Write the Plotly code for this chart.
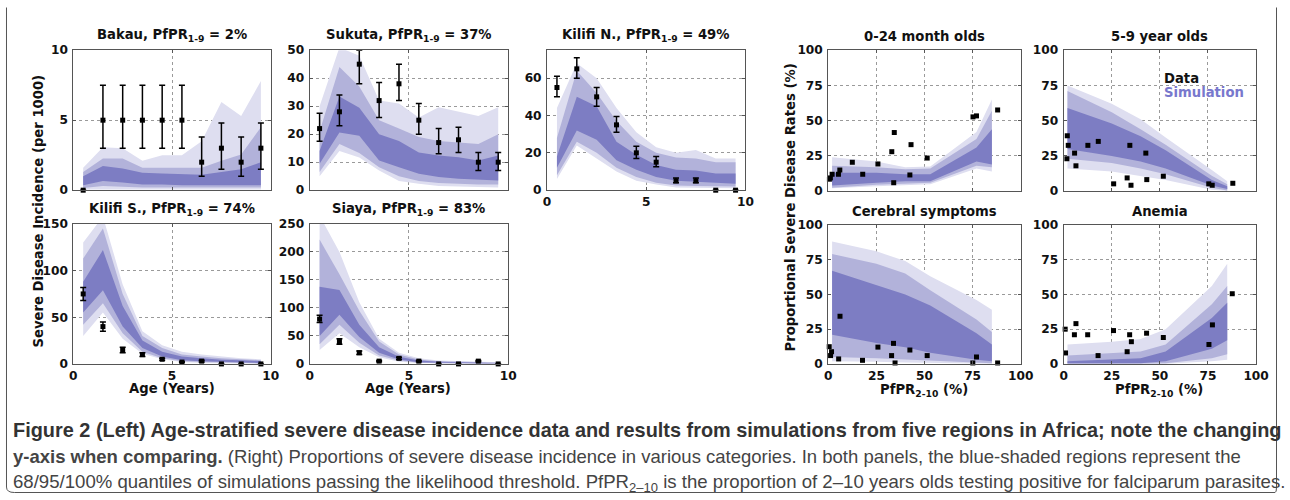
import plotly.graph_objects as go

W, H = 1290, 500

# ---------------- data: left (age-stratified incidence) ----------------
ages = [0.5, 1.5, 2.5, 3.5, 4.5, 5.5, 6.5, 7.5, 8.5, 9.5]

bakau_val = [0, 5, 5, 5, 5, 5, 2, 3, 2, 3]
bakau_lo = [0, 3, 3, 3, 3, 3, 1, 1.5, 1, 1.5]
bakau_hi = [0, 7.5, 7.5, 7.5, 7.5, 7.5, 3.8, 4.8, 3.8, 4.8]
bakau_q100_hi = [1.6, 3.07, 3.0, 2.1, 2.5, 2.5, 3.5, 6.3, 5.3, 7.8]
bakau_q95_hi = [1.3, 2.27, 2.27, 1.6, 1.6, 1.6, 1.6, 2.1, 2.55, 4.5]
bakau_q68_hi = [1.0, 1.73, 1.54, 1.25, 1.2, 1.13, 1.1, 1.3, 1.5, 2.0]
bakau_q68_lo = [0.35, 0.65, 0.55, 0.4, 0.4, 0.35, 0.3, 0.35, 0.35, 0.35]
bakau_q95_lo = [0.15, 0.3, 0.25, 0.2, 0.2, 0.2, 0.15, 0.2, 0.2, 0.2]
bakau_q100_lo = [0.05, 0.1, 0.08, 0.05, 0.05, 0.05, 0.05, 0.05, 0.05, 0.05]

sukuta_val = [22, 28, 45, 32, 38, 25, 17, 18, 10, 10]
sukuta_lo = [17.5, 23, 38, 26, 32, 20, 13, 13.5, 7, 7]
sukuta_hi = [27.5, 34, 50, 38.5, 45, 31, 22, 22.5, 13.5, 13.5]
sukuta_q100_hi = [30, 51, 48, 32, 31, 26, 29.6, 28, 26.5, 29.6]
sukuta_q95_hi = [21, 44, 37, 25, 22, 19, 17.6, 17, 16.5, 20]
sukuta_q68_hi = [14, 33.5, 29.4, 20, 17.6, 13.5, 12.4, 11.8, 10.6, 12.4]
sukuta_q68_lo = [9.4, 20.6, 19.4, 10.6, 8.2, 5.9, 4.7, 4.1, 3.8, 3.5]
sukuta_q95_lo = [6.5, 16.5, 13.3, 8.2, 5, 3.3, 2.6, 2.2, 2, 2]
sukuta_q100_lo = [5, 14, 11.7, 7, 3.3, 2.3, 1.5, 1.2, 1.1, 1]

kilifin_val = [55, 65, 50, 35, 20, 15, 5, 5, 0, 0]
kilifin_lo = [50, 60, 45, 31, 17, 12.5, 4, 4, 0, 0]
kilifin_hi = [61, 71, 55, 39.5, 23.5, 18, 6.5, 6.5, 0, 0]
kilifin_q100_hi = [44, 68, 60, 44, 31, 23, 20, 21.5, 17, 17]
kilifin_q95_hi = [28, 64, 52, 37, 26, 20, 17.5, 17, 15, 15]
kilifin_q68_hi = [18, 50, 45, 26, 19, 13.5, 11, 10.5, 9, 9]
kilifin_q68_lo = [12, 32, 27, 16, 11, 7, 5, 4.5, 4, 3.5]
kilifin_q95_lo = [8, 26, 20, 12, 7, 4, 2.5, 2.3, 2, 2]
kilifin_q100_lo = [6, 24, 17, 10, 5, 3, 1.5, 1.3, 1, 1]

kilifis_val = [75, 40, 15, 10, 5, 2, 3, 0, 0, 0]
kilifis_lo = [68, 35, 12, 8, 4, 1.5, 2, 0, 0, 0]
kilifis_hi = [82, 45, 18, 12, 6, 2.5, 4, 0, 0, 0]
kilifis_q100_hi = [130, 158, 85, 35, 20, 13, 10, 8, 6, 5]
kilifis_q95_hi = [113, 145, 75, 30, 17, 10, 8, 6, 5, 4]
kilifis_q68_hi = [88, 122, 62, 25, 13, 8, 6, 4.5, 4, 3]
kilifis_q68_lo = [55, 79, 40, 17, 8, 4, 3, 2, 1.5, 1]
kilifis_q95_lo = [42, 65, 33, 13, 6, 3, 2, 1, 1, 0.5]
kilifis_q100_lo = [30, 55, 27, 11, 5, 2, 1, 0.5, 0.5, 0.3]

siaya_val = [80, 40, 20, 5, 10, 5, 0, 0, 5, 0]
siaya_lo = [74, 35, 17, 4, 8, 4, 0, 0, 4, 0]
siaya_hi = [87, 45, 23, 6, 12, 6, 0, 0, 6, 0]
siaya_q100_hi = [265, 200, 110, 45, 20, 10, 6, 5, 4, 3]
siaya_q95_hi = [222, 160, 95, 40, 17, 8, 5, 4, 3, 2.5]
siaya_q68_hi = [138, 132, 70, 30, 13, 6, 4, 3, 2.5, 2]
siaya_q68_lo = [50, 88, 48, 20, 8, 3, 2, 1.5, 1, 1]
siaya_q95_lo = [35, 70, 38, 15, 6, 2, 1, 1, 0.5, 0.5]
siaya_q100_lo = [25, 55, 30, 12, 4, 1.5, 0.5, 0.5, 0.3, 0.3]

# ---------------- data: right (proportions vs PfPR2-10) ----------------
pfpr_sim = [2, 25, 40, 53, 77, 85]

m024_x = [0.6, 1.1, 2, 5.3, 6, 12.5, 17.9, 25.8, 33, 34.3, 34, 42.4, 43, 51.4, 75.2, 77, 88]
m024_y = [8.5, 9.4, 12, 12, 15, 20.5, 12, 19.3, 28, 41.6, 6, 11.5, 33, 23.5, 52.7, 53.4, 57.6]
m024_q100_hi = [24, 21, 17, 17.5, 42, 65]
m024_q95_hi = [18, 17, 15.5, 16, 37, 57]
m024_q68_hi = [13, 13, 12, 12, 31, 44]
m024_q68_lo = [4, 6, 7, 7, 21, 19]
m024_q95_lo = [2.5, 4.5, 5.5, 6, 18, 17]
m024_q100_lo = [2, 3.5, 4.5, 5, 16, 14]

y59_x = [1.9, 2.4, 1.7, 5.7, 6.4, 12.6, 18, 26, 33, 34.4, 35, 42.7, 43.2, 51.8, 75.4, 77.2, 87.9]
y59_y = [39.3, 32.5, 23, 27, 18, 32.5, 35.3, 5.2, 9.4, 32.5, 4.2, 27, 8.2, 10.6, 5.2, 4.2, 5.6]
y59_q100_hi = [75, 62, 51, 38, 15, 7]
y59_q95_hi = [71, 56, 44, 33, 11, 5]
y59_q68_hi = [59, 48, 39, 29, 8, 3.5]
y59_q68_lo = [30, 25, 21, 16, 4, 1.5]
y59_q95_lo = [23, 20, 16, 12, 2.5, 0.5]
y59_q100_lo = [16, 14, 11, 8, 1, 0.3]

cer_x = [0.5, 1.7, 1.2, 6.1, 5.4, 17.8, 25.8, 32.9, 33.9, 34.7, 42.4, 51.4, 75.1, 77, 88]
cer_y = [12.4, 8.8, 6, 34.3, 3.6, 2.6, 12.1, 6, 14.8, 0.7, 10, 6, 0.7, 5, 0.7]
cer_q100_hi = [88, 81, 74, 63, 46, 39]
cer_q95_hi = [79, 72, 65, 53, 32, 23]
cer_q68_hi = [67, 57, 50, 42, 22, 14]
cer_q68_lo = [21, 15, 12, 8, 3, 2]
cer_q95_lo = [5, 4, 3, 2, 1, 0.5]
cer_q100_lo = [2, 1.5, 1, 1, 0.3, 0.2]

ane_x = [0.8, 1, 5.6, 6.4, 12.5, 17.9, 25.9, 33, 34.3, 35.2, 43.1, 51.8, 75.5, 77.3, 87.6]
ane_y = [25, 7.9, 21, 29, 21, 6, 24, 8.8, 21, 16, 22.1, 19, 14, 28.1, 50.5]
ane_q100_hi = [14, 16, 18, 25, 56, 72]
ane_q95_hi = [6, 7.5, 9, 14, 43, 56]
ane_q68_hi = [2, 3, 4, 9, 33, 44]
ane_q68_lo = [0.5, 0.5, 0.5, 2, 11, 17]
ane_q95_lo = [0.2, 0.2, 0.3, 0.5, 4, 7]
ane_q100_lo = [0.1, 0.1, 0.1, 0.2, 2, 3]

left_titles = ["Bakau", "Sukuta", "Kilifi N.", "Kilifi S.", "Siaya"]
left_pfpr = ["2%", "37%", "49%", "74%", "83%"]
left_ymax = [10, 50, 75, 150, 250]
left_dtick = [5, 10, 20, 50, 50]
right_titles = ["0-24 month olds", "5-9 year olds", "Cerebral symptoms", "Anemia"]
age_ticks = [0, 5, 10]
pct_ticks = [0, 25, 50, 75, 100]

# ---------------- style ----------------
C100 = "rgb(222,222,240)"
C95 = "rgb(178,178,218)"
C68 = "rgb(125,125,195)"
FRAME = "#555555"
GRID = "#9a9a9a"
FONT = "DejaVu Sans"

# the photographed page comes out slightly shrunk and offset; positions below
# are given in picture pixels and mapped back to page pixels here
AX, BX = 2.5, 0.9895
AY, BY = 4.5, 0.979
FS = 1.015  # font compensation


def px(x):
    p = (x - AX) / BX
    return min(max(p, 0.5), W - 0.5) / W


def py(y):
    p = (y - AY) / BY
    return 1 - min(max(p, 0.5), H - 0.5) / H


# pixel boxes in picture coordinates (left, right, top, bottom)
boxes = [
    (72, 270, 48, 189), (309, 508, 48, 189), (547, 746, 48, 189),
    (72, 270, 223, 364), (309, 508, 223, 364),
    (829, 1022, 48, 190), (1065, 1258, 48, 190),
    (829, 1022, 224, 364), (1065, 1258, 224, 364),
]

fig = go.Figure()

left_sets = [
    (bakau_val, bakau_lo, bakau_hi, bakau_q100_lo, bakau_q100_hi, bakau_q95_lo, bakau_q95_hi, bakau_q68_lo, bakau_q68_hi),
    (sukuta_val, sukuta_lo, sukuta_hi, sukuta_q100_lo, sukuta_q100_hi, sukuta_q95_lo, sukuta_q95_hi, sukuta_q68_lo, sukuta_q68_hi),
    (kilifin_val, kilifin_lo, kilifin_hi, kilifin_q100_lo, kilifin_q100_hi, kilifin_q95_lo, kilifin_q95_hi, kilifin_q68_lo, kilifin_q68_hi),
    (kilifis_val, kilifis_lo, kilifis_hi, kilifis_q100_lo, kilifis_q100_hi, kilifis_q95_lo, kilifis_q95_hi, kilifis_q68_lo, kilifis_q68_hi),
    (siaya_val, siaya_lo, siaya_hi, siaya_q100_lo, siaya_q100_hi, siaya_q95_lo, siaya_q95_hi, siaya_q68_lo, siaya_q68_hi),
]
right_sets = [
    (m024_x, m024_y, m024_q100_lo, m024_q100_hi, m024_q95_lo, m024_q95_hi, m024_q68_lo, m024_q68_hi),
    (y59_x, y59_y, y59_q100_lo, y59_q100_hi, y59_q95_lo, y59_q95_hi, y59_q68_lo, y59_q68_hi),
    (cer_x, cer_y, cer_q100_lo, cer_q100_hi, cer_q95_lo, cer_q95_hi, cer_q68_lo, cer_q68_hi),
    (ane_x, ane_y, ane_q100_lo, ane_q100_hi, ane_q95_lo, ane_q95_hi, ane_q68_lo, ane_q68_hi),
]


def band(xs, lo, hi, color, xa, ya):
    fig.add_trace(go.Scatter(
        x=list(xs) + list(xs)[::-1], y=list(hi) + list(lo)[::-1],
        fill="toself", fillcolor=color, line=dict(width=0), mode="lines",
        hoverinfo="skip", showlegend=False, xaxis=xa, yaxis=ya))


ax_font = dict(family=FONT, size=12 * FS, color="#111", weight="bold")


def note(text, x, y, size=13, color="#111", xanchor="center", yanchor="middle", angle=0, family=FONT):
    return dict(text=text, x=px(x), y=py(y), xref="paper", yref="paper",
                xanchor=xanchor, yanchor=yanchor, showarrow=False, textangle=angle,
                font=dict(family=family, size=size * FS, color=color))


annotations = []
for i in range(9):
    n = i + 1
    xa = "x" if n == 1 else f"x{n}"
    ya = "y" if n == 1 else f"y{n}"
    l, r, t, b = boxes[i]
    if i < 5:
        val, lo, hi, a_lo, a_hi, b_lo, b_hi, c_lo, c_hi = left_sets[i]
        band(ages, a_lo, a_hi, C100, xa, ya)
        band(ages, b_lo, b_hi, C95, xa, ya)
        band(ages, c_lo, c_hi, C68, xa, ya)
        fig.add_trace(go.Scatter(
            x=ages, y=val, mode="markers", xaxis=xa, yaxis=ya, showlegend=False,
            marker=dict(symbol="square", size=5, color="black"), cliponaxis=False,
            error_y=dict(type="data", symmetric=False,
                         array=[h - v for h, v in zip(hi, val)],
                         arrayminus=[v - q for v, q in zip(val, lo)],
                         color="black", thickness=1.5, width=3)))
        xr, yr = [0, 10], [0, left_ymax[i]]
        xtv, ytd = age_ticks, left_dtick[i]
        show_x = i >= 2
        title = f"<b>{left_titles[i]}, PfPR<sub>1-9</sub> = {left_pfpr[i]}</b>"
    else:
        j = i - 5
        dx, dy, a_lo, a_hi, b_lo, b_hi, c_lo, c_hi = right_sets[j]
        band(pfpr_sim, a_lo, a_hi, C100, xa, ya)
        band(pfpr_sim, b_lo, b_hi, C95, xa, ya)
        band(pfpr_sim, c_lo, c_hi, C68, xa, ya)
        fig.add_trace(go.Scatter(
            x=dx, y=dy, mode="markers", xaxis=xa, yaxis=ya, showlegend=False,
            marker=dict(symbol="square", size=5, color="black"), cliponaxis=False))
        xr, yr = [0, 100], [0, 100]
        xtv, ytd = pct_ticks, 25
        show_x = j >= 2
        title = f"<b>{right_titles[j]}</b>"
    common = dict(showline=True, mirror="ticks", linecolor=FRAME, linewidth=1,
                  showgrid=True, gridcolor=GRID, griddash="dot", gridwidth=1,
                  zeroline=False, ticks="inside", ticklen=3, tickcolor=FRAME,
                  tickfont=ax_font, fixedrange=True)
    fig.layout[f"xaxis{'' if n == 1 else n}"] = dict(
        domain=[px(l), px(r)], range=xr, anchor=ya, tickvals=xtv,
        showticklabels=show_x, **common)
    fig.layout[f"yaxis{'' if n == 1 else n}"] = dict(
        domain=[py(b), py(t)], range=yr, anchor=xa, dtick=ytd, tick0=0,
        ticklabelstandoff=2, **common)
    annotations.append(note(title, (l + r) / 2, t - 4, yanchor="bottom"))

# axis titles and legend text
annotations += [
    note("<b>Severe Disease Incidence (per 1000)</b>", 37, 210, angle=-90),
    note("<b>Proportional Severe Disease Rates (%)</b>", 791, 206, angle=-90),
    note("<b>Age (Years)</b>", 171, 389),
    note("<b>Age (Years)</b>", 408, 389),
    note("<b>PfPR<sub>2-10</sub> (%)</b>", 925, 391),
    note("<b>PfPR<sub>2-10</sub> (%)</b>", 1161, 391),
    note("<b>Data</b>", 1164, 77, xanchor="left"),
    note("<b>Simulation</b>", 1164, 91, xanchor="left", color="rgb(120,120,205)"),
]

# caption
CAP = "Liberation Sans, Arial, sans-serif"
cap1 = ("<b>Figure 2 (Left) Age-stratified severe disease incidence data and results from simulations "
        "from five regions in Africa; note the changing</b>")
cap2 = ("<b>y-axis when comparing.</b> (Right) Proportions of severe disease incidence in various "
        "categories. In both panels, the blue-shaded regions represent the")
cap3 = ("68/95/100% quantiles of simulations passing the likelihood threshold. PfPR<sub>2\u201310</sub> "
        "is the proportion of 2\u201310 years olds testing positive for falciparum parasites.")
annotations.append(note(cap1, 10, 431, size=19.9 / FS, color="#333", xanchor="left", family=CAP))
annotations.append(note(cap2, 10, 457, size=18.5 / FS, color="#444", xanchor="left", family=CAP))
annotations.append(note(cap3, 10, 484, size=18.6 / FS, color="#444", xanchor="left", family=CAP))

fig.update_layout(annotations=annotations)

# outer rounded frame
r = 8
path = (f"M {px(5)},{py(-5)} L {px(5)},{py(496 - r)} Q {px(5)},{py(496)} {px(5 + r)},{py(496)} "
        f"L {px(1285 - r)},{py(496)} Q {px(1285)},{py(496)} {px(1285)},{py(496 - r)} "
        f"L {px(1285)},{py(-5)}")
fig.add_shape(type="path", path=path, xref="paper", yref="paper",
              line=dict(color="#555", width=1))

fig.update_layout(width=W, height=H, autosize=False,
                  margin=dict(l=0, r=0, t=0, b=0, pad=0),
                  paper_bgcolor="white", plot_bgcolor="white",
                  showlegend=False)

fig.write_html("out.html", config={"displayModeBar": False},
               post_script="document.body.style.margin='0';document.body.style.overflow='hidden';")
